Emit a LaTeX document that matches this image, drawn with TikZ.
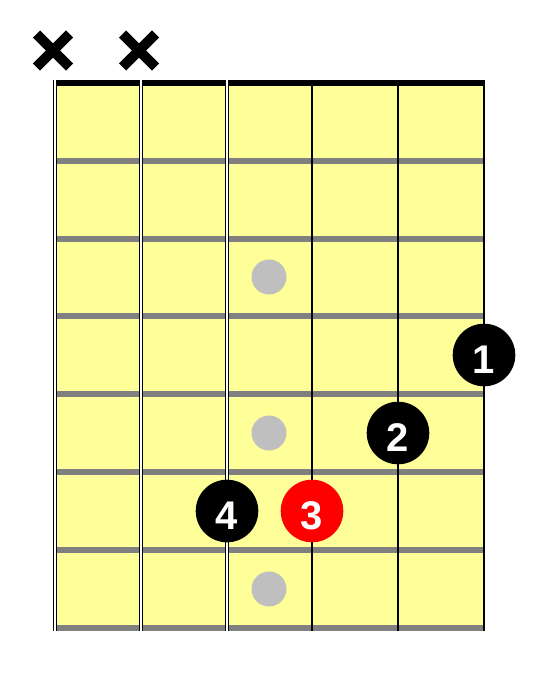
\documentclass[tikz,border=0pt]{standalone}
\usepackage{fontspec}
\usepackage{tikz}
\usetikzlibrary{positioning}
\newfontfamily\fingfont{Liberation Sans}
\definecolor{myellow}{rgb}{1, 1, 0.6}
\definecolor{mgray}{rgb}{0.5, 0.5, 0.5}
\definecolor{msilver}{rgb}{0.75, 0.75, 0.75}
\definecolor{mred}{rgb}{1, 0, 0}
\tikzset{fing/.style = {fill, circle, inner sep = 0, minimum size = 62.6, text = white,
    text height = 36, text depth = 0,
    font = \fingfont\bfseries\fontsize{40}{40}\selectfont}}
\tikzset{inlay/.style = {fill = msilver, circle, inner sep = 0, minimum size = 35}}
\tikzset{fret/.style = {mgray, line width = 6}}
\tikzset{mute/.style = {line width = 10}}

\begin{document}
\begin{tikzpicture}[x=1pt, y=-1pt]
      \useasboundingbox (0, 0) rectangle (551, 680);
      \fill [myellow] (55, 83) rectangle (484, 628);
      \foreach \y in {161, 239, 316, 394, 472, 550, 628}
        \draw [fret] (55, \y) -- (484, \y);
      \draw [line width=6] (55, 83) -- (485, 83);

      \foreach \x in {55, 141, 227} {
        \draw [line width=4] (\x, 80) -- (\x, 631);
        \draw [white, line width=2] (\x, 80) -- (\x, 631);
      }
      \foreach \x in {312, 398, 484}
        \draw [line width=1.4] (\x, 80) -- (\x, 631);

      \foreach \x in {53, 139} {
        \draw [mute] (\x-16.5, 34) -- (\x+16.5, 67);
        \draw [mute] (\x-16.5, 67) -- (\x+16.5, 34);
      }

      \node [inlay] (i3) at (269, 277) {};
      \node [inlay] (i5) at (269, 433) {};
      \node [inlay] (i7) at (269, 589) {};

      \node [fing] (f1) at (484, 355) {1};
      \node [fing] (f2) at (398, 433) {2};
      \node [fing, fill=mred] (f3) at (312, 511) {3};
      \node [fing] (f4) at (227, 511) {4};
    \end{tikzpicture}
\end{document}
